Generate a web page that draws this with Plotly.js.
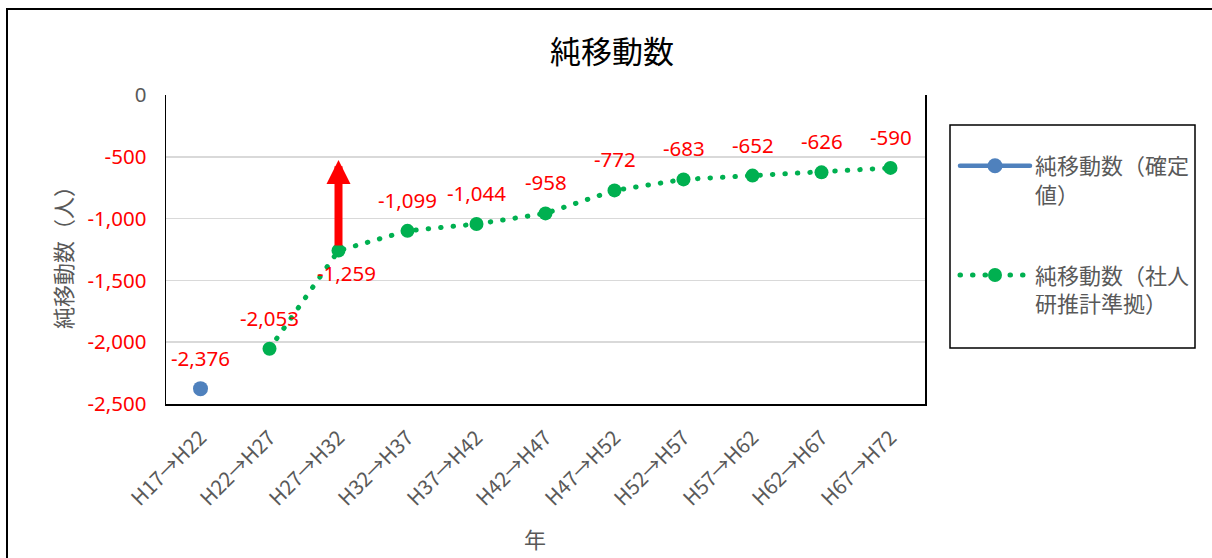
<!DOCTYPE html>
<html>
<head>
<meta charset="utf-8">
<script src="https://cdn.plot.ly/plotly-3.0.1.min.js"></script>
<style>
html,body{margin:0;padding:0;background:#fff;}
#chart{width:1212px;height:558px;}
.js-line{stroke-linecap:round;}
</style>
</head>
<body>
<div id="chart"></div>
<script>
const categories = ['H17→H22','H22→H27','H27→H32','H32→H37','H37→H42','H42→H47','H47→H52','H52→H57','H57→H62','H62→H67','H67→H72'];
const confirmedValues = [-2376, null, null, null, null, null, null, null, null, null, null];
const projectedValues = [null, -2053, -1259, -1099, -1044, -958, -772, -683, -652, -626, -590];
const yTickValues = [0, -500, -1000, -1500, -2000, -2500];
const yTickLabels = ['0', '-500', '-1,000', '-1,500', '-2,000', '-2,500'];
const seriesNames = ['純移動数（確定<br>値）', '純移動数（社人<br>研推計準拠）'];
const arrowFrom = -1230;
const arrowTo = -526;

const GRAY = '#595959';
const RED = '#FF0000';
const FONT = '"Noto Sans", "Noto Sans CJK JP", sans-serif';
const CJK = '"Noto Sans CJK JP", sans-serif';
const LEGFONT = '"DejaVu Sans", "Noto Sans CJK JP", sans-serif';

const traces = [
  {
    x: categories, y: confirmedValues, name: seriesNames[0], type: 'scatter', mode: 'lines+markers',
    line: {color: '#4F81BD', width: 4.5}, marker: {color: '#4F81BD', size: 15},
    legendgroup: 'a', connectgaps: false, hoverinfo: 'x+y'
  },
  {
    x: categories, y: projectedValues, name: seriesNames[1], type: 'scatter', mode: 'lines+markers',
    line: {color: '#00B050', width: 5, dash: '0.5px,12px'}, marker: {color: '#00B050', size: 14},
    legendgroup: 'b', connectgaps: false, hoverinfo: 'x+y'
  }
];

const fmt = v => v.toLocaleString('en-US');
const annotations = [];
[confirmedValues, projectedValues].forEach(vals => {
  vals.forEach((v, i) => {
    if (v === null) return;
    const below = (i === 2);
    annotations.push({
      x: categories[i], y: v, xref: 'x', yref: 'y', text: fmt(v), showarrow: false,
      font: {family: FONT, size: 20.5, color: RED},
      yshift: below ? -22 : 31, xshift: below ? 8 : 0
    });
  });
});
// red arrow
annotations.push({
  x: 2, y: arrowTo, ax: 2, ay: arrowFrom, xref: 'x', yref: 'y', axref: 'x', ayref: 'y',
  showarrow: true, arrowhead: 2, arrowsize: 0.6, arrowwidth: 8, arrowcolor: RED, text: '', standoff: 0
});
// axis titles
annotations.push({
  text: '純移動数（人）', xref: 'paper', yref: 'paper', x: (62 - 166) / 759, y: (404 - 252) / 309,
  xanchor: 'center', yanchor: 'middle', textangle: -90, showarrow: false,
  font: {family: CJK, size: 22, color: GRAY}
});
annotations.push({
  text: '年', xref: 'paper', yref: 'paper', x: (535 - 166) / 759, y: -(538 - 404) / 309,
  xanchor: 'center', yanchor: 'middle', showarrow: false,
  font: {family: CJK, size: 22, color: GRAY}
});

const layout = {
  width: 1212, height: 558,
  margin: {l: 166, r: 287, t: 95, b: 154},
  paper_bgcolor: '#fff', plot_bgcolor: '#fff',
  title: {text: '純移動数', font: {family: CJK, size: 31, color: '#000'}, x: 0.505, xref: 'container', y: 1 - 52 / 558, yref: 'container', yanchor: 'middle', xanchor: 'center'},
  xaxis: {
    type: 'category', range: [-0.5, 10.5], tickangle: -45, showgrid: false, zeroline: false,
    showline: true, linecolor: '#000', linewidth: 1.5,
    tickfont: {family: CJK, size: 20.5, color: GRAY}, ticks: '', ticklabelstandoff: 12, automargin: false
  },
  yaxis: {
    range: [-2500, 0], tickvals: yTickValues,
    ticktext: yTickLabels.map((t, i) => i === 0 ? t : '<span style="color:' + RED + '">' + t + '</span>'),
    showgrid: true, gridcolor: '#D9D9D9', gridwidth: 1.5, zeroline: false,
    showline: true, mirror: true, linecolor: '#000', linewidth: 1.5,
    tickfont: {family: FONT, size: 20.5, color: GRAY}, ticks: '', ticklabelstandoff: 14, automargin: false
  },
  showlegend: true,
  legend: {
    x: (955 - 166) / 759, y: (404 - 145) / 309, xanchor: 'left', yanchor: 'top',
    bgcolor: 'rgba(0,0,0,0)', borderwidth: 0, itemwidth: 70, valign: 'top',
    font: {family: LEGFONT, size: 22, color: GRAY}, tracegroupgap: 49, itemclick: false
  },
  shapes: [
    {type: 'rect', xref: 'paper', yref: 'paper', x0: (950 - 166) / 759, x1: (1195 - 166) / 759,
     y0: (404 - 348) / 309, y1: (404 - 125) / 309, line: {color: '#000', width: 1.5}, fillcolor: 'rgba(0,0,0,0)'},
    {type: 'rect', xref: 'paper', yref: 'paper', x0: (7 - 166) / 759, x1: 3,
     y0: -3, y1: (404 - 9) / 309, line: {color: '#000', width: 2}, fillcolor: 'rgba(0,0,0,0)'}
  ],
  annotations: annotations
};

Plotly.newPlot('chart', traces, layout, {displayModeBar: false, staticPlot: true});
</script>
</body>
</html>
